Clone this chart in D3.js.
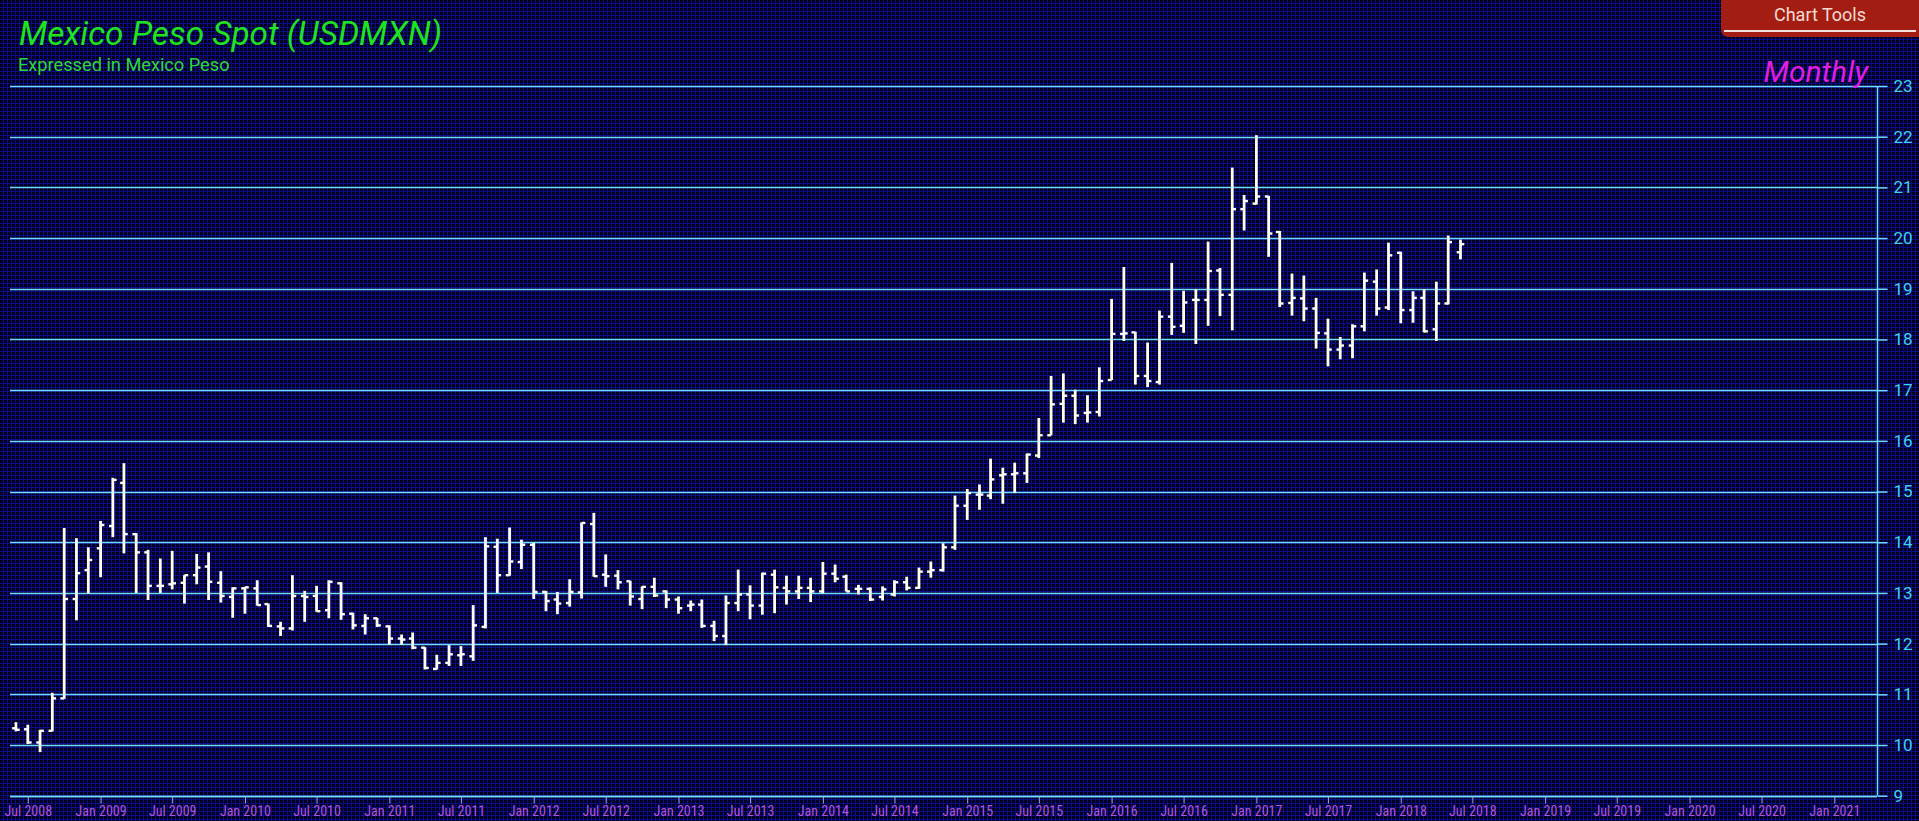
<!DOCTYPE html>
<html><head><meta charset="utf-8">
<script src="https://cdn.jsdelivr.net/npm/d3@7"></script>
<style>html,body{margin:0;padding:0;background:#00002a;overflow:hidden} svg{display:block}</style>
</head><body>
<svg id="chart" width="1919" height="821"></svg>
<script>
// ---- data (monthly OHLC, USDMXN) ----
const months = [
"2008-06","2008-07","2008-08","2008-09","2008-10","2008-11","2008-12",
"2009-01","2009-02","2009-03","2009-04","2009-05","2009-06","2009-07","2009-08","2009-09","2009-10","2009-11","2009-12",
"2010-01","2010-02","2010-03","2010-04","2010-05","2010-06","2010-07","2010-08","2010-09","2010-10","2010-11","2010-12",
"2011-01","2011-02","2011-03","2011-04","2011-05","2011-06","2011-07","2011-08","2011-09","2011-10","2011-11","2011-12",
"2012-01","2012-02","2012-03","2012-04","2012-05","2012-06","2012-07","2012-08","2012-09","2012-10","2012-11","2012-12",
"2013-01","2013-02","2013-03","2013-04","2013-05","2013-06","2013-07","2013-08","2013-09","2013-10","2013-11","2013-12",
"2014-01","2014-02","2014-03","2014-04","2014-05","2014-06","2014-07","2014-08","2014-09","2014-10","2014-11","2014-12",
"2015-01","2015-02","2015-03","2015-04","2015-05","2015-06","2015-07","2015-08","2015-09","2015-10","2015-11","2015-12",
"2016-01","2016-02","2016-03","2016-04","2016-05","2016-06","2016-07","2016-08","2016-09","2016-10","2016-11","2016-12",
"2017-01","2017-02","2017-03","2017-04","2017-05","2017-06","2017-07","2017-08","2017-09","2017-10","2017-11","2017-12",
"2018-01","2018-02","2018-03","2018-04","2018-05","2018-06"];
const openVals = [
10.33,10.31,10.05,10.28,10.92,12.88,13.45,
13.88,14.32,15.17,14.16,13.80,13.14,13.17,13.20,13.35,13.52,13.20,12.92,
13.09,13.09,12.78,12.34,12.30,12.94,12.94,12.66,13.19,12.59,12.35,12.50,
12.34,12.10,12.10,11.92,11.50,11.62,11.77,11.75,12.33,13.91,13.35,13.61,
13.95,13.02,12.87,12.80,13.01,14.36,13.36,13.34,13.23,12.88,13.12,13.03,
12.87,12.75,12.77,12.35,12.15,12.80,12.97,12.75,13.36,13.10,13.03,13.10,
13.03,13.38,13.32,13.08,13.08,12.92,12.97,13.21,13.10,13.42,13.45,13.90,
14.72,14.94,14.92,15.32,15.34,15.36,15.71,16.11,16.73,16.89,16.55,16.57,
17.20,18.11,18.14,17.28,17.16,18.45,18.27,18.78,18.78,19.36,18.88,20.57,
20.68,20.82,20.12,18.72,18.81,18.61,18.12,17.80,17.88,18.26,19.14,18.63,
19.71,18.58,18.82,18.20,18.71,19.72];
const highVals = [
10.45,10.40,10.30,11.03,14.28,14.08,13.90,
14.42,15.27,15.56,14.18,13.85,13.68,13.83,13.35,13.77,13.80,13.43,13.11,
13.12,13.25,12.79,12.43,13.35,13.04,13.14,13.25,13.21,12.61,12.58,12.51,
12.36,12.18,12.22,11.93,11.78,11.97,11.95,12.76,14.10,14.07,14.29,14.05,
13.99,13.04,13.02,13.27,14.39,14.58,13.76,13.45,13.24,13.13,13.30,13.05,
12.93,12.85,12.87,12.45,12.95,13.46,13.15,13.40,13.46,13.34,13.34,13.30,
13.61,13.56,13.36,13.16,13.11,13.13,13.25,13.32,13.50,13.62,13.98,14.92,
15.05,15.14,15.65,15.47,15.57,15.75,16.45,17.28,17.33,17.01,16.90,17.45,
18.80,19.43,18.15,17.94,18.57,19.51,18.96,18.99,19.93,19.41,21.39,20.85,
22.03,20.83,20.14,19.30,19.26,18.82,18.41,18.05,18.30,19.32,19.38,19.91,
19.73,18.95,18.99,19.14,20.05,19.97];
const lowVals = [
10.27,10.02,9.86,10.27,10.91,12.46,12.99,
13.31,14.10,13.78,13.00,12.86,13.00,13.07,12.79,13.17,12.86,12.81,12.51,
12.59,12.75,12.33,12.15,12.26,12.43,12.63,12.50,12.47,12.28,12.18,12.33,
11.98,11.98,11.89,11.49,11.49,11.56,11.56,11.66,12.30,13.00,13.34,13.47,
12.88,12.64,12.58,12.73,12.89,13.32,13.12,13.07,12.75,12.68,12.92,12.70,
12.59,12.64,12.31,12.05,11.97,12.64,12.48,12.57,12.60,12.77,12.88,12.82,
12.99,13.21,13.03,12.97,12.84,12.85,12.93,13.05,13.08,13.30,13.42,13.85,
14.44,14.64,14.85,14.76,14.97,15.17,15.66,16.11,16.36,16.33,16.36,16.48,
17.20,17.97,17.11,17.06,17.11,18.09,18.13,17.91,18.27,18.46,18.18,20.15,
20.66,19.63,18.64,18.47,18.36,17.82,17.47,17.61,17.63,18.16,18.47,18.58,
18.32,18.33,18.14,17.97,18.69,19.58];
const closeVals = [
10.30,10.05,10.28,10.92,12.88,13.39,13.65,
14.34,15.23,14.16,13.80,13.14,13.14,13.19,13.35,13.50,13.22,12.94,13.09,
13.11,12.76,12.35,12.30,12.94,12.92,12.64,13.22,12.58,12.36,12.50,12.36,
12.10,12.08,11.92,11.52,11.62,11.79,11.79,12.36,13.92,13.35,13.62,13.95,
13.02,12.84,12.79,13.02,14.38,13.33,13.33,13.21,12.93,13.12,12.95,12.87,
12.70,12.77,12.35,12.15,12.80,12.97,12.75,13.38,13.11,13.03,13.10,13.03,
13.38,13.28,13.03,13.08,12.87,13.07,13.21,13.10,13.42,13.45,13.90,14.72,
14.97,14.94,15.24,15.34,15.36,15.73,16.11,16.72,16.89,16.50,16.56,17.18,
18.11,18.12,17.28,17.18,18.45,18.25,18.73,18.78,19.35,18.88,20.57,20.73,
20.82,20.09,18.71,18.82,18.61,18.13,17.80,17.88,18.26,19.16,18.61,19.66,
18.58,18.82,18.16,18.71,19.92,19.88];
const xTickLabels = ["Jul 2008","Jan 2009","Jul 2009","Jan 2010","Jul 2010","Jan 2011","Jul 2011",
"Jan 2012","Jul 2012","Jan 2013","Jul 2013","Jan 2014","Jul 2014","Jan 2015","Jul 2015","Jan 2016",
"Jul 2016","Jan 2017","Jul 2017","Jan 2018","Jul 2018","Jan 2019","Jul 2019","Jan 2020","Jul 2020","Jan 2021"];
const yTicks = [9,10,11,12,13,14,15,16,17,18,19,20,21,22,23];
const titleText = "Mexico Peso Spot (USDMXN)";
const subtitleText = "Expressed in Mexico Peso";
const periodText = "Monthly";
const buttonText = "Chart Tools";

// ---- chart ----
const W = 1919, H = 821;
const svg = d3.select("#chart");
const parseM = d3.timeParse("%Y-%m");
const parseT = d3.timeParse("%b %Y");

const x = d3.scaleTime()
  .domain([new Date(2008, 4, 17), new Date(2021, 3, 19)])
  .range([10, 1877]);
const y = d3.scaleLinear().domain([9, 23]).range([795.7, 86]);

// background pattern
const defs = svg.append("defs");
const pat = defs.append("pattern").attr("id", "bgp").attr("patternUnits", "userSpaceOnUse")
  .attr("width", 4).attr("height", 4);
pat.append("rect").attr("width", 4).attr("height", 4).attr("fill", "#0a0a8c");
pat.append("rect").attr("x", 0).attr("y", 0).attr("width", 3).attr("height", 3).attr("fill", "#000016");
svg.append("rect").attr("width", W).attr("height", H).attr("fill", "url(#bgp)");

const gridCol = "#70dcff";
// gridlines
svg.append("g").selectAll("line").data(yTicks).join("line")
  .attr("x1", 10).attr("x2", 1877)
  .attr("y1", d => Math.round(y(d)) + 0.5).attr("y2", d => Math.round(y(d)) + 0.5)
  .attr("stroke", gridCol).attr("stroke-width", 1.5);

// right axis
const yAxis = d3.axisRight(y).tickValues(yTicks).tickSize(10).tickPadding(6).tickFormat(d3.format("d"));
const gy = svg.append("g").attr("transform", "translate(1877.5,0)").call(yAxis);
gy.select(".domain").attr("stroke", gridCol).attr("stroke-width", 1.5).attr("d", `M0,${y(23)}V${y(9)}`);
gy.selectAll(".tick line").attr("stroke", gridCol).attr("stroke-width", 1.5);
gy.selectAll(".tick text").attr("fill", "#3fd4f0").attr("font-family", "Roboto, sans-serif")
  .attr("font-size", 17);

// bottom axis
const xTickDates = xTickLabels.map(parseT);
const xAxis = d3.axisBottom(x).tickValues(xTickDates).tickSize(7).tickPadding(3)
  .tickFormat(d3.timeFormat("%b %Y"));
const gx = svg.append("g").attr("transform", `translate(0,${Math.round(y(9)) + 0.5})`).call(xAxis);
gx.select(".domain").attr("stroke", gridCol).attr("stroke-width", 1.5).attr("d", "M10,0H1877");
gx.selectAll(".tick line").attr("stroke", "#a7a4d6").attr("stroke-width", 1);
gx.selectAll(".tick text").attr("fill", "#b255dc").attr("font-family", "'Liberation Sans Narrow', 'Roboto Condensed', Roboto, sans-serif")
  .attr("font-size", 14);

// OHLC bars
const bars = months.map((m, i) => ({ d: parseM(m), o: openVals[i], h: highVals[i], l: lowVals[i], c: closeVals[i] }));
const gb = svg.append("g").attr("stroke", "#ffffff");
gb.selectAll("line.hl").data(bars).join("line").attr("class", "hl")
  .attr("x1", d => x(d.d)).attr("x2", d => x(d.d))
  .attr("y1", d => y(d.h)).attr("y2", d => y(d.l)).attr("stroke-width", 2.8);
gb.selectAll("line.op").data(bars).join("line").attr("class", "op")
  .attr("x1", d => x(d.d) - 3.8).attr("x2", d => x(d.d))
  .attr("y1", d => y(d.o)).attr("y2", d => y(d.o)).attr("stroke-width", 2.4);
gb.selectAll("line.cl").data(bars).join("line").attr("class", "cl")
  .attr("x1", d => x(d.d)).attr("x2", d => x(d.d) + 3.8)
  .attr("y1", d => y(d.c)).attr("y2", d => y(d.c)).attr("stroke-width", 2.4);

// titles
svg.append("text").attr("x", 19).attr("y", 45).text(titleText)
  .attr("font-family", "Roboto, sans-serif").attr("font-style", "italic").attr("font-size", 33.3)
  .attr("fill", "#1fe31f");
svg.append("text").attr("x", 18).attr("y", 71).text(subtitleText)
  .attr("font-family", "Roboto, sans-serif").attr("font-size", 18.2).attr("fill", "#2fd83a");
svg.append("text").attr("x", 1868).attr("y", 82).attr("text-anchor", "end").text(periodText)
  .attr("font-family", "Roboto, sans-serif").attr("font-style", "italic").attr("font-size", 30)
  .attr("fill", "#e21ee2");

// Chart Tools button
const bx = 1721, bw = W - bx, bh = 37, r = 8;
svg.append("path")
  .attr("d", `M${bx},0H${W}V${bh}H${bx + r}Q${bx},${bh} ${bx},${bh - r}Z`)
  .attr("fill", "#a31d13");
svg.append("line").attr("x1", 1724).attr("x2", 1916).attr("y1", 31).attr("y2", 31)
  .attr("stroke", "#f3e2dc").attr("stroke-width", 2);
svg.append("text").attr("x", 1820).attr("y", 20.5).attr("text-anchor", "middle").text(buttonText)
  .attr("font-family", "Roboto, sans-serif").attr("font-size", 18).attr("fill", "#f6dcd2");
</script>
</body></html>
